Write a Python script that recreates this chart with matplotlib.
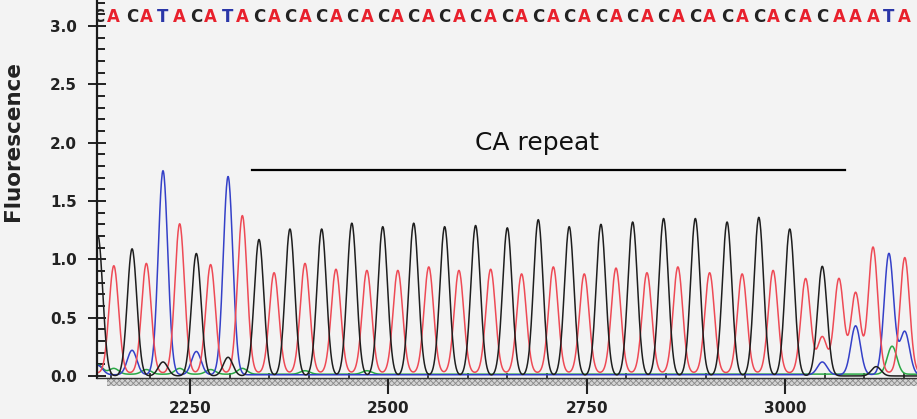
import matplotlib
matplotlib.use("Agg")
import matplotlib.pyplot as plt
import numpy as np
from matplotlib.patches import Rectangle
from matplotlib.ticker import MultipleLocator

# base calls (scan position, base, peak height)
call_pos = [2134, 2154, 2177, 2195, 2216, 2237, 2258, 2276, 2298, 2316,
            2337, 2356, 2376, 2395, 2416, 2434, 2454, 2473, 2493, 2512,
            2532, 2551, 2571, 2589, 2610, 2629, 2650, 2668, 2689, 2708,
            2728, 2747, 2768, 2787, 2808, 2826, 2847, 2865, 2887, 2905,
            2927, 2946, 2967, 2985, 3006, 3026, 3047, 3068, 3089, 3111,
            3131, 3151]
call_base = ("CACATACATA"
             "CACACACACACACACACACACACACACACACACACAC"
             "AAATA")
call_height = [1.20, 0.92, 1.09, 0.94, 1.75, 1.28, 1.05, 0.93, 1.70, 1.35,
               1.17, 0.86, 1.26, 0.94, 1.26, 0.89, 1.31, 0.88, 1.28, 0.88,
               1.31, 0.91, 1.28, 0.88, 1.29, 0.89, 1.27, 0.85, 1.34, 0.91,
               1.28, 0.85, 1.30, 0.90, 1.32, 0.86, 1.35, 0.91, 1.35, 0.86,
               1.32, 0.85, 1.36, 0.88, 1.26, 0.81, 0.94, 0.81, 0.69, 1.08,
               1.04, 0.99]

# smaller secondary peaks
minor_pos = [2134, 2177, 2258, 2216, 2298, 3047, 3047, 3089, 3115, 3135, 3151,
             2154, 2195, 2237, 2276, 2316, 2134, 2395, 2473]
minor_base = "TTTCCATTCGTGGGGGGGG"
minor_height = [0.08, 0.21, 0.20, 0.12, 0.16, 0.31, 0.11, 0.42, 0.08, 0.24, 0.37,
                0.05, 0.04, 0.05, 0.04, 0.05, 0.08, 0.03, 0.03]

baseline = {"A": 0.025, "C": 0.0, "G": 0.015, "T": 0.01}
trace_color = {"A": "#ee4a55", "C": "#1e1e1e", "G": "#2aa845", "T": "#3440c8"}
letter_color = {"A": "#e8202c", "C": "#222222", "G": "#2aa845", "T": "#2a36a8"}

ca_start, ca_end = 2328, 3076

bg = "#f3f3f3"
plt.rcParams["hatch.linewidth"] = 0.6
fig = plt.figure(figsize=(9.17, 4.19), dpi=100, facecolor=bg)
ax = fig.add_axes([97 / 917, 41.3 / 419, 820 / 917, 377.7 / 419], facecolor=bg)

xs = np.arange(2100, 3200, 0.5)
sigma = 6.0
for b in "GTAC":
    y = np.full_like(xs, baseline[b])
    for p, bb, h in zip(call_pos, call_base, call_height):
        if bb == b:
            y += h * np.exp(-0.5 * ((xs - p) / sigma) ** 2)
    for p, bb, h in zip(minor_pos, minor_base, minor_height):
        if bb == b:
            y += h * np.exp(-0.5 * ((xs - p) / sigma) ** 2)
    ax.plot(xs, y, color=trace_color[b], lw=1.1)

for p, b in zip(call_pos, call_base):
    ax.text(p, 3.077, b, color=letter_color[b], fontsize=12, fontweight="bold",
            ha="center", va="center", clip_on=True)

ax.plot([ca_start, ca_end], [1.765, 1.765], color="black", lw=1.6)
ax.text((ca_start + ca_end) / 2 - 14, 2.0, "CA repeat", fontsize=18,
        ha="center", va="center", color="#111111")

band = Rectangle((2145, -0.085), 1100, 0.065, facecolor="#d4d4d4",
                 edgecolor="#8a8a8a", hatch="xxxxxx", lw=0, clip_on=False, zorder=1)
ax.add_patch(band)

ax.set_xlim(2132.8, 3166.4)
ax.set_ylim(-0.015, 3.223)

ax.xaxis.set_major_locator(MultipleLocator(250))
ax.xaxis.set_minor_locator(MultipleLocator(50))
ax.yaxis.set_major_locator(MultipleLocator(0.5))
ax.yaxis.set_minor_locator(MultipleLocator(0.1))
ax.set_xticks([2250, 2500, 2750, 3000])
ax.yaxis.set_major_formatter(matplotlib.ticker.FormatStrFormatter("%.1f"))

ax.tick_params(axis="x", which="major", direction="out", length=11.5, width=1.5,
               color="#222", pad=5, labelsize=11)
ax.tick_params(axis="x", which="minor", direction="in", length=3.5, width=1.2, color="#222")
ax.tick_params(axis="y", which="major", direction="inout", length=13, width=1.4,
               color="#222", pad=8, labelsize=11)
ax.tick_params(axis="y", which="minor", direction="in", length=6, width=1.4, color="#222")
for lab in ax.get_xticklabels() + ax.get_yticklabels():
    lab.set_fontweight("bold")
    lab.set_color("#222")

for s in ["top", "right"]:
    ax.spines[s].set_visible(False)
ax.spines["left"].set_linewidth(1.6)
ax.spines["left"].set_color("#1a1a1a")
ax.spines["bottom"].set_linewidth(1.0)
ax.spines["bottom"].set_color("#333")

fig.text(13 / 917, 1 - 141 / 419, "Fluorescence", rotation=90, fontsize=15.5,
         fontweight="bold", ha="center", va="center", color="#222")

fig.savefig("out.png", dpi=100, facecolor=bg)
